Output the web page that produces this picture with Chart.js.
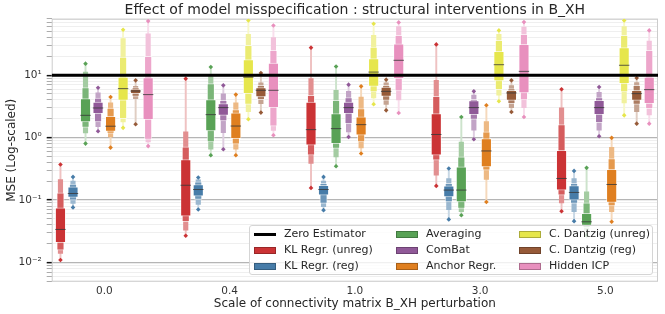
<!DOCTYPE html>
<html>
<head>
<meta charset="utf-8">
<script src="https://cdn.jsdelivr.net/npm/chart.js@4.4.1/dist/chart.umd.min.js"></script>
<style>
  body { margin: 0; background: #fff; }
  #wrap { position: relative; width: 665px; height: 314px; font-family: "DejaVu Sans", sans-serif; }
  #legend { position: absolute; left: 249px; top: 225px; width: 404px; height: 50px;
            border: 1px solid #d5d5d5; border-radius: 3px; background: rgba(255,255,255,0.8); box-sizing: border-box; }
  .lbl { position: absolute; font-size: 11px; line-height: 13px; color: #262626; white-space: nowrap; }
  .patch { position: absolute; width: 22px; height: 7px; box-sizing: border-box; border: 1px solid rgba(0,0,0,0.25); }
  .zline { position: absolute; width: 22px; height: 3px; background: #000; }
</style>
</head>
<body>
<div id="wrap">
  <canvas id="chart" width="665" height="314"></canvas>
  <div id="legend"></div>
</div>
<script>
const CATEGORIES = ['0.0', '0.4', '1.0', '3.0', '5.0'];
const SERIES = ['KL Regr. (unreg)', 'KL Regr. (reg)', 'Averaging', 'ComBat', 'Anchor Regr.',
                'C. Dantzig (unreg)', 'C. Dantzig (reg)', 'Hidden ICP'];
const COLORS = ['#cb3335', '#477ca8', '#59a256', '#905998', '#df7f20', '#e6e64c', '#965a38', '#e890be'];
const ZERO_ESTIMATOR = 10;
const Y_TICKS = [0.01, 0.1, 1, 10];
const Y_TICK_LABELS = ['10\u207b\u00b2', '10\u207b\u00b9', '10\u2070', '10\u00b9'];

// per category: [outlier low, lv3 low, lv2 low, q25, median, q75, lv2 high, lv3 high, outlier high]
const klUnreg = [
  [0.0109, 0.0139, 0.0157, 0.0206, 0.0337, 0.0748, 0.130, 0.213, 0.370],
  [0.0267, 0.0329, 0.0447, 0.055, 0.172, 0.445, 0.71, 1.23, 8.79],
  [0.156, 0.384, 0.52, 0.753, 1.34, 3.72, 4.76, 8.8, 27.6],
  [0.168, 0.249, 0.433, 0.52, 1.12, 2.42, 4.57, 8.26, 31.1],
  [0.066, 0.09, 0.119, 0.144, 0.221, 0.626, 1.61, 3.0, 5.93]
];
const klReg = [
  [0.076, 0.088, 0.099, 0.110, 0.127, 0.162, 0.179, 0.2, 0.234],
  [0.0705, 0.085, 0.102, 0.115, 0.147, 0.177, 0.195, 0.21, 0.229],
  [0.0687, 0.078, 0.088, 0.119, 0.147, 0.172, 0.184, 0.2, 0.234],
  [0.0488, 0.07, 0.093, 0.112, 0.144, 0.168, 0.184, 0.22, 0.319],
  [0.0458, 0.065, 0.088, 0.099, 0.132, 0.17, 0.184, 0.22, 0.292]
];
const averaging = [
  [0.80, 1.19, 1.45, 1.78, 2.27, 4.2, 6.3, 11.2, 15.3],
  [0.52, 0.65, 0.85, 1.28, 2.33, 4.06, 7.31, 10.0, 13.5],
  [0.347, 0.49, 0.667, 0.80, 1.39, 2.42, 3.95, 5.72, 13.8],
  [0.057, 0.065, 0.073, 0.093, 0.144, 0.339, 0.49, 0.85, 2.14],
  [0.027, 0.033, 0.036, 0.039, 0.0447, 0.061, 0.09, 0.135, 0.327]
];
const combat = [
  [1.26, 1.5, 1.78, 2.42, 2.98, 3.7, 4.3, 5.2, 6.3],
  [0.65, 1.2, 1.85, 2.27, 3.02, 3.5, 3.95, 5.0, 6.87],
  [1.02, 1.23, 1.67, 2.42, 3.02, 3.72, 4.37, 5.5, 7.05],
  [0.94, 1.31, 1.96, 2.33, 3.02, 3.9, 4.1, 4.8, 5.5],
  [1.05, 1.31, 1.74, 2.33, 3.02, 3.95, 4.37, 5.3, 6.46]
];
const anchor = [
  [0.69, 1.02, 1.16, 1.26, 1.52, 2.19, 2.98, 3.6, 4.47],
  [0.52, 0.65, 0.78, 0.96, 1.53, 2.48, 2.81, 3.6, 4.88],
  [0.555, 0.68, 0.85, 1.09, 1.61, 2.14, 2.91, 4.47, 6.62],
  [0.093, 0.213, 0.30, 0.339, 0.61, 0.96, 1.23, 1.8, 3.29],
  [0.0447, 0.065, 0.0805, 0.0912, 0.177, 0.311, 0.461, 0.7, 0.99]
];
const dantzigUnreg = [
  [1.43, 1.78, 2.01, 3.95, 6.08, 9.33, 19.5, 38.4, 53.5],
  [1.96, 2.6, 3.41, 5.06, 9.3, 17.7, 30, 45, 75.3],
  [3.41, 4.3, 5.37, 6.62, 11.2, 18.4, 28.2, 43.4, 66.7],
  [3.81, 4.8, 5.86, 8.05, 14.7, 24, 36, 45, 52.1],
  [2.27, 3.6, 5.37, 7.31, 14.4, 27.6, 43.4, 60, 75]
];
const dantzigReg = [
  [1.63, 4.2, 4.57, 5.06, 5.57, 6.0, 6.3, 6.6, 8.26],
  [2.51, 3.5, 4.06, 4.47, 5.72, 6.31, 6.87, 7.5, 10.8],
  [2.73, 3.4, 3.95, 4.57, 5.5, 6.46, 6.87, 7.5, 8.47],
  [2.57, 3.0, 3.5, 3.95, 5.18, 5.72, 6.08, 6.8, 8.26],
  [1.67, 2.6, 3.41, 3.95, 5.06, 5.72, 6.87, 7.6, 9.0]
];
const hiddenIcp = [
  [0.73, 0.85, 0.93, 1.94, 4.88, 9.12, 20, 46.1, 73.5],
  [1.09, 1.3, 1.52, 3.02, 5.72, 15.6, 24.9, 40, 62.6],
  [2.48, 4.0, 5.57, 8.79, 17.3, 31.9, 43.4, 60, 70],
  [2.14, 3.0, 4.0, 5.18, 11.5, 31.1, 45, 58.9, 70.8],
  [1.67, 2.3, 2.91, 3.5, 5.86, 9.33, 24.9, 35, 52.1]
];
const VALUES = [klUnreg, klReg, averaging, combat, anchor, dantzigUnreg, dantzigReg, hiddenIcp];

function lighten(hex, t) {
  const n = parseInt(hex.slice(1), 16);
  const c = [(n >> 16) & 255, (n >> 8) & 255, n & 255].map(v => Math.round(v * t + 255 * (1 - t)));
  return 'rgb(' + c.join(',') + ')';
}
function hueX(cat, s) { return cat + (s - 3.5) * 0.1; }

// nested letter-value boxes: outermost (thin) first, IQR box last
const levels = [
  { lo: 0, hi: 8, width: 1.3, t: 0.3, order: 6, border: 0 },
  { lo: 1, hi: 7, width: 4.5, t: 0.55, order: 5, border: 0 },
  { lo: 2, hi: 6, width: 7.5, t: 0.8, order: 4, border: 1 },
  { lo: 3, hi: 5, width: 10.5, t: 1, order: 3, border: 1 }
];

const datasets = [];
levels.forEach(lv => {
  const data = [], bg = [];
  VALUES.forEach((rows, s) => rows.forEach((v, c) => {
    data.push({ x: hueX(c, s), y: [v[lv.lo], v[lv.hi]] });
    bg.push(lighten(COLORS[s], lv.t));
  }));
  datasets.push({
    type: 'bar', data, backgroundColor: bg, barThickness: lv.width, grouped: false,
    borderWidth: lv.border, borderColor: 'rgba(255,255,255,0.6)', borderSkipped: false, order: lv.order
  });
});

const medians = [], outliers = [], outColors = [];
VALUES.forEach((rows, s) => rows.forEach((v, c) => {
  medians.push({ x: hueX(c, s), y: v[4] });
  outliers.push({ x: hueX(c, s), y: v[0] }, { x: hueX(c, s), y: v[8] });
  outColors.push(COLORS[s], COLORS[s]);
}));
datasets.push({
  type: 'line', showLine: false, data: medians, pointStyle: 'line', pointRadius: 5.2,
  pointBorderColor: 'rgba(55,55,55,0.8)', pointBorderWidth: 1, order: 2
});
datasets.push({
  type: 'line', showLine: false, data: outliers, pointStyle: 'rectRot', pointRadius: 2.3,
  pointBackgroundColor: outColors, pointBorderWidth: 0, order: 1
});
datasets.push({
  type: 'line', data: [{ x: -0.42, y: ZERO_ESTIMATOR }, { x: 4.42, y: ZERO_ESTIMATOR }],
  borderColor: '#000', borderWidth: 3, pointRadius: 0, order: 0
});

function isMajor(v) { const l = Math.log10(v); return Math.abs(l - Math.round(l)) < 1e-6; }

const frame = {
  id: 'frame',
  beforeDatasetsDraw(chart) {
    const { ctx, chartArea: a } = chart;
    ctx.save();
    ctx.strokeStyle = '#cccccc';
    ctx.lineWidth = 1;
    ctx.strokeRect(a.left + 0.5, a.top + 0.5, a.right - a.left - 1, a.bottom - a.top - 1);
    ctx.restore();
  }
};

Chart.defaults.font.family = '"DejaVu Sans", sans-serif';
new Chart(document.getElementById('chart'), {
  type: 'bar',
  data: { datasets },
  plugins: [frame],
  options: {
    responsive: false,
    animation: false,
    layout: { padding: { left: 5, right: 7, top: 1, bottom: 3 } },
    plugins: {
      legend: { display: false },
      tooltip: { enabled: false },
      title: {
        display: true, fullSize: false,
        text: 'Effect of model misspecification : structural interventions in B_XH',
        font: { size: 14, weight: 'normal' }, color: '#262626', padding: { top: 1, bottom: 0 }
      }
    },
    scales: {
      x: {
        type: 'linear', min: -0.42, max: 4.42, offset: false,
        afterBuildTicks: s => { s.ticks = CATEGORIES.map((c, i) => ({ value: i })); },
        afterFit: s => { s.height = 29.3; },
        ticks: {
          autoSkip: false, maxRotation: 0, padding: 3, font: { size: 10.5 }, color: '#333',
          callback: v => CATEGORIES[Math.round(v)] || ''
        },
        grid: { display: false, drawTicks: false },
        border: { display: false },
        title: {
          display: true, text: 'Scale of connectivity matrix B_XH perturbation',
          font: { size: 12 }, color: '#262626', padding: { top: 0, bottom: 0 }
        }
      },
      y: {
        type: 'logarithmic', min: 0.0049, max: 80,
        afterBuildTicks: s => {
          const t = [];
          for (let e = -3; e <= 1; e++) for (let m = 1; m <= 9; m++) {
            const v = m * Math.pow(10, e);
            if (v >= s.min && v <= s.max) t.push({ value: v });
          }
          s.ticks = t;
        },
        afterFit: s => { s.width = 46.7; },
        ticks: {
          autoSkip: false, padding: 5, font: { size: 10.5 }, color: '#333',
          callback: v => {
            const i = Y_TICKS.findIndex(t => Math.abs(t - v) / t < 1e-6);
            return i >= 0 ? Y_TICK_LABELS[i] : '';
          }
        },
        grid: {
          color: c => isMajor(c.tick.value) ? '#b5b5b5' : '#ebebeb',
          lineWidth: c => isMajor(c.tick.value) ? 1.3 : 0.8,
          tickColor: c => isMajor(c.tick.value) ? '#111' : '#888',
          tickWidth: c => isMajor(c.tick.value) ? 1.5 : 0.7,
          tickLength: 5
        },
        border: { display: false },
        title: { display: true, text: 'MSE (Log-scaled)', font: { size: 12 }, color: '#262626', padding: 0 }
      }
    }
  }
});

// legend, column-major like the original
const legend = document.getElementById('legend');
const entries = [{ name: 'Zero Estimator', line: true }].concat(SERIES.map((n, i) => ({ name: n, color: COLORS[i] })));
const colPatch = [4, 146, 269], colText = [34, 176, 299], rowMid = [8, 24, 40];
entries.forEach((e, i) => {
  const col = Math.floor(i / 3), row = i % 3;
  const p = document.createElement('div');
  if (e.line) {
    p.className = 'zline';
    p.style.top = (rowMid[row] - 1.5) + 'px';
  } else {
    p.className = 'patch';
    p.style.background = e.color;
    p.style.top = (rowMid[row] - 3.5) + 'px';
  }
  p.style.left = colPatch[col] + 'px';
  legend.appendChild(p);
  const t = document.createElement('div');
  t.className = 'lbl';
  t.textContent = e.name;
  t.style.left = colText[col] + 'px';
  t.style.top = (rowMid[row] - 7) + 'px';
  legend.appendChild(t);
});
</script>
</body>
</html>
